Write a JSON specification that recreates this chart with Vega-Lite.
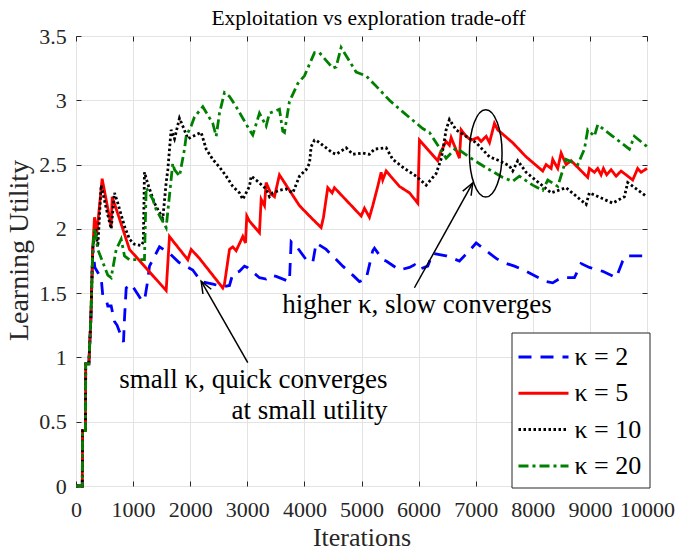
{
"$schema": "https://vega.github.io/schema/vega-lite/v6.json",
"width": 571, "height": 450,
"autosize": {"type": "none"},
"padding": {"left": 76, "top": 36, "right": 33, "bottom": 65},
"background": "white",
"title": {"text": "Exploitation vs exploration trade-off", "font": "Liberation Serif", "fontSize": 21.5, "fontWeight": "normal", "color": "black", "offset": -4, "anchor": "middle", "dx": 7},
"config": {
  "view": {"stroke": "#262626", "strokeWidth": 1},
  "axis": {"labelFont": "Liberation Serif", "titleFont": "Liberation Serif", "labelColor": "#262626", "titleColor": "#262626", "titleFontWeight": "normal", "tickColor": "#262626", "domain": false, "gridColor": "#e3e3e3", "gridOpacity": 1, "gridWidth": 1}
},
"datasets": {
  "series": [
    {"k":"κ = 2","x":0,"y":0},{"k":"κ = 2","x":110,"y":0},{"k":"κ = 2","x":115,"y":0.43},{"k":"κ = 2","x":165,"y":0.43},{"k":"κ = 2","x":170,"y":0.95},{"k":"κ = 2","x":225,"y":0.95},{"k":"κ = 2","x":260,"y":1.3},{"k":"κ = 2","x":294,"y":1.85},
    {"k":"κ = 2","x":330,"y":1.70},{"k":"κ = 2","x":382,"y":1.66},{"k":"κ = 2","x":441,"y":1.62},{"k":"κ = 2","x":469,"y":1.48},{"k":"κ = 2","x":529,"y":1.45},{"k":"κ = 2","x":557,"y":1.40},{"k":"κ = 2","x":616,"y":1.40},{"k":"κ = 2","x":674,"y":1.28},{"k":"κ = 2","x":720,"y":1.25},{"k":"κ = 2","x":762,"y":1.20},{"k":"κ = 2","x":832,"y":1.12},{"k":"κ = 2","x":849,"y":1.30},{"k":"κ = 2","x":879,"y":1.54},{"k":"κ = 2","x":937,"y":1.56},{"k":"κ = 2","x":967,"y":1.57},{"k":"κ = 2","x":1142,"y":1.45},{"k":"κ = 2","x":1199,"y":1.44},{"k":"κ = 2","x":1257,"y":1.60},{"k":"κ = 2","x":1287,"y":1.71},{"k":"κ = 2","x":1462,"y":1.86},{"k":"κ = 2","x":1637,"y":1.81},{"k":"κ = 2","x":1800,"y":1.74},{"k":"κ = 2","x":2045,"y":1.68},{"k":"κ = 2","x":2192,"y":1.59},{"k":"κ = 2","x":2400,"y":1.57},{"k":"κ = 2","x":2571,"y":1.55},{"k":"κ = 2","x":2688,"y":1.56},{"k":"κ = 2","x":2746,"y":1.65},{"k":"κ = 2","x":2863,"y":1.67},{"k":"κ = 2","x":2950,"y":1.71},{"k":"κ = 2","x":3000,"y":1.70},{"k":"κ = 2","x":3213,"y":1.62},{"k":"κ = 2","x":3330,"y":1.61},{"k":"κ = 2","x":3418,"y":1.64},{"k":"κ = 2","x":3505,"y":1.63},{"k":"κ = 2","x":3738,"y":1.59},{"k":"κ = 2","x":3768,"y":1.90},{"k":"κ = 2","x":3884,"y":1.85},{"k":"κ = 2","x":4031,"y":1.76},{"k":"κ = 2","x":4147,"y":1.74},{"k":"κ = 2","x":4206,"y":1.89},{"k":"κ = 2","x":4381,"y":1.84},{"k":"κ = 2","x":4672,"y":1.71},{"k":"κ = 2","x":4847,"y":1.64},{"k":"κ = 2","x":4964,"y":1.59},{"k":"κ = 2","x":5081,"y":1.61},{"k":"κ = 2","x":5197,"y":1.83},{"k":"κ = 2","x":5227,"y":1.85},{"k":"κ = 2","x":5372,"y":1.76},{"k":"κ = 2","x":5432,"y":1.75},{"k":"κ = 2","x":5665,"y":1.68},{"k":"κ = 2","x":5840,"y":1.70},{"k":"κ = 2","x":5928,"y":1.72},{"k":"κ = 2","x":5985,"y":1.68},{"k":"κ = 2","x":6160,"y":1.71},{"k":"κ = 2","x":6248,"y":1.81},{"k":"κ = 2","x":6482,"y":1.79},{"k":"κ = 2","x":6715,"y":1.75},{"k":"κ = 2","x":6890,"y":1.83},{"k":"κ = 2","x":7008,"y":1.89},{"k":"κ = 2","x":7124,"y":1.85},{"k":"κ = 2","x":7358,"y":1.77},{"k":"κ = 2","x":7474,"y":1.74},{"k":"κ = 2","x":7679,"y":1.71},{"k":"κ = 2","x":7883,"y":1.67},{"k":"κ = 2","x":8233,"y":1.59},{"k":"κ = 2","x":8349,"y":1.58},{"k":"κ = 2","x":8496,"y":1.62},{"k":"κ = 2","x":8729,"y":1.62},{"k":"κ = 2","x":8846,"y":1.73},{"k":"κ = 2","x":8991,"y":1.70},{"k":"κ = 2","x":9225,"y":1.67},{"k":"κ = 2","x":9459,"y":1.62},{"k":"κ = 2","x":9575,"y":1.75},{"k":"κ = 2","x":9634,"y":1.79},{"k":"κ = 2","x":9779,"y":1.79},{"k":"κ = 2","x":10000,"y":1.79},

    {"k":"κ = 5","x":0,"y":0},{"k":"κ = 5","x":110,"y":0},{"k":"κ = 5","x":115,"y":0.43},{"k":"κ = 5","x":165,"y":0.43},{"k":"κ = 5","x":170,"y":0.95},{"k":"κ = 5","x":225,"y":0.95},{"k":"κ = 5","x":260,"y":1.3},{"k":"κ = 5","x":294,"y":1.85},
    {"k":"κ = 5","x":324,"y":2.09},{"k":"κ = 5","x":365,"y":1.97},{"k":"κ = 5","x":458,"y":2.39},{"k":"κ = 5","x":616,"y":2.02},{"k":"κ = 5","x":634,"y":2.25},{"k":"κ = 5","x":937,"y":1.84},{"k":"κ = 5","x":1579,"y":1.52},{"k":"κ = 5","x":1637,"y":1.94},{"k":"κ = 5","x":1958,"y":1.76},{"k":"κ = 5","x":2017,"y":1.84},{"k":"κ = 5","x":2163,"y":1.77},{"k":"κ = 5","x":2571,"y":1.54},{"k":"κ = 5","x":2600,"y":1.57},{"k":"κ = 5","x":2688,"y":1.84},{"k":"κ = 5","x":2746,"y":1.86},{"k":"κ = 5","x":2805,"y":1.83},{"k":"κ = 5","x":2921,"y":1.94},{"k":"κ = 5","x":2968,"y":1.89},{"k":"κ = 5","x":2991,"y":2.10},{"k":"κ = 5","x":3038,"y":2.06},{"k":"κ = 5","x":3213,"y":1.97},{"k":"κ = 5","x":3243,"y":2.23},{"k":"κ = 5","x":3301,"y":2.18},{"k":"κ = 5","x":3330,"y":2.36},{"k":"κ = 5","x":3418,"y":2.27},{"k":"κ = 5","x":3476,"y":2.25},{"k":"κ = 5","x":3563,"y":2.42},{"k":"κ = 5","x":3621,"y":2.38},{"k":"κ = 5","x":3914,"y":2.18},{"k":"κ = 5","x":4089,"y":2.10},{"k":"κ = 5","x":4293,"y":2.01},{"k":"κ = 5","x":4334,"y":2.09},{"k":"κ = 5","x":4409,"y":2.32},{"k":"κ = 5","x":4486,"y":2.28},{"k":"κ = 5","x":4526,"y":2.32},{"k":"κ = 5","x":4994,"y":2.10},{"k":"κ = 5","x":5052,"y":2.16},{"k":"κ = 5","x":5139,"y":2.09},{"k":"κ = 5","x":5197,"y":2.18},{"k":"κ = 5","x":5285,"y":2.33},{"k":"κ = 5","x":5344,"y":2.44},{"k":"κ = 5","x":5372,"y":2.38},{"k":"κ = 5","x":5432,"y":2.45},{"k":"κ = 5","x":5665,"y":2.33},{"k":"κ = 5","x":5840,"y":2.28},{"k":"κ = 5","x":5985,"y":2.20},{"k":"κ = 5","x":6015,"y":2.69},{"k":"κ = 5","x":6335,"y":2.53},{"k":"κ = 5","x":6378,"y":2.59},{"k":"κ = 5","x":6482,"y":2.68},{"k":"κ = 5","x":6540,"y":2.65},{"k":"κ = 5","x":6570,"y":2.71},{"k":"κ = 5","x":6715,"y":2.55},{"k":"κ = 5","x":6745,"y":2.77},{"k":"κ = 5","x":6832,"y":2.72},{"k":"κ = 5","x":6920,"y":2.69},{"k":"κ = 5","x":7036,"y":2.71},{"k":"κ = 5","x":7095,"y":2.68},{"k":"κ = 5","x":7183,"y":2.72},{"k":"κ = 5","x":7241,"y":2.67},{"k":"κ = 5","x":7328,"y":2.82},{"k":"κ = 5","x":7386,"y":2.77},{"k":"κ = 5","x":7648,"y":2.67},{"k":"κ = 5","x":7883,"y":2.56},{"k":"κ = 5","x":8174,"y":2.45},{"k":"κ = 5","x":8233,"y":2.50},{"k":"κ = 5","x":8321,"y":2.47},{"k":"κ = 5","x":8349,"y":2.54},{"k":"κ = 5","x":8437,"y":2.47},{"k":"κ = 5","x":8496,"y":2.59},{"k":"κ = 5","x":8583,"y":2.50},{"k":"κ = 5","x":8671,"y":2.53},{"k":"κ = 5","x":8962,"y":2.40},{"k":"κ = 5","x":8991,"y":2.47},{"k":"κ = 5","x":9079,"y":2.44},{"k":"κ = 5","x":9137,"y":2.47},{"k":"κ = 5","x":9196,"y":2.42},{"k":"κ = 5","x":9237,"y":2.47},{"k":"κ = 5","x":9294,"y":2.42},{"k":"κ = 5","x":9371,"y":2.46},{"k":"κ = 5","x":9459,"y":2.41},{"k":"κ = 5","x":9546,"y":2.45},{"k":"κ = 5","x":9750,"y":2.38},{"k":"κ = 5","x":9837,"y":2.47},{"k":"κ = 5","x":9896,"y":2.44},{"k":"κ = 5","x":10000,"y":2.47},

    {"k":"κ = 10","x":0,"y":0},{"k":"κ = 10","x":110,"y":0},{"k":"κ = 10","x":115,"y":0.43},{"k":"κ = 10","x":165,"y":0.43},{"k":"κ = 10","x":170,"y":0.95},{"k":"κ = 10","x":225,"y":0.95},{"k":"κ = 10","x":260,"y":1.3},{"k":"κ = 10","x":294,"y":1.85},
    {"k":"κ = 10","x":340,"y":2.0},{"k":"κ = 10","x":382,"y":1.86},{"k":"κ = 10","x":441,"y":2.34},{"k":"κ = 10","x":529,"y":2.16},{"k":"κ = 10","x":616,"y":2.00},{"k":"κ = 10","x":674,"y":2.28},{"k":"κ = 10","x":732,"y":2.20},{"k":"κ = 10","x":849,"y":2.02},{"k":"κ = 10","x":937,"y":1.92},{"k":"κ = 10","x":1024,"y":1.88},{"k":"κ = 10","x":1142,"y":1.87},{"k":"κ = 10","x":1180,"y":1.90},{"k":"κ = 10","x":1199,"y":2.44},{"k":"κ = 10","x":1257,"y":2.35},{"k":"κ = 10","x":1374,"y":2.20},{"k":"κ = 10","x":1520,"y":2.08},{"k":"κ = 10","x":1579,"y":2.36},{"k":"κ = 10","x":1608,"y":2.46},{"k":"κ = 10","x":1666,"y":2.77},{"k":"κ = 10","x":1725,"y":2.70},{"k":"κ = 10","x":1812,"y":2.86},{"k":"κ = 10","x":1870,"y":2.80},{"k":"κ = 10","x":1960,"y":2.70},{"k":"κ = 10","x":2045,"y":2.72},{"k":"κ = 10","x":2192,"y":2.75},{"k":"κ = 10","x":2280,"y":2.62},{"k":"κ = 10","x":2396,"y":2.54},{"k":"κ = 10","x":2513,"y":2.48},{"k":"κ = 10","x":2630,"y":2.41},{"k":"κ = 10","x":2746,"y":2.33},{"k":"κ = 10","x":2863,"y":2.28},{"k":"κ = 10","x":2921,"y":2.23},{"k":"κ = 10","x":3038,"y":2.33},{"k":"κ = 10","x":3068,"y":2.41},{"k":"κ = 10","x":3155,"y":2.38},{"k":"κ = 10","x":3330,"y":2.31},{"k":"κ = 10","x":3388,"y":2.25},{"k":"κ = 10","x":3446,"y":2.28},{"k":"κ = 10","x":3563,"y":2.30},{"k":"κ = 10","x":3680,"y":2.31},{"k":"κ = 10","x":3797,"y":2.28},{"k":"κ = 10","x":3914,"y":2.41},{"k":"κ = 10","x":4031,"y":2.46},{"k":"κ = 10","x":4089,"y":2.51},{"k":"κ = 10","x":4118,"y":2.64},{"k":"κ = 10","x":4177,"y":2.69},{"k":"κ = 10","x":4206,"y":2.69},{"k":"κ = 10","x":4381,"y":2.63},{"k":"κ = 10","x":4497,"y":2.59},{"k":"κ = 10","x":4556,"y":2.58},{"k":"κ = 10","x":4731,"y":2.63},{"k":"κ = 10","x":4847,"y":2.58},{"k":"κ = 10","x":5022,"y":2.59},{"k":"κ = 10","x":5139,"y":2.58},{"k":"κ = 10","x":5227,"y":2.62},{"k":"κ = 10","x":5432,"y":2.63},{"k":"κ = 10","x":5548,"y":2.54},{"k":"κ = 10","x":5752,"y":2.47},{"k":"κ = 10","x":5957,"y":2.41},{"k":"κ = 10","x":6132,"y":2.34},{"k":"κ = 10","x":6307,"y":2.43},{"k":"κ = 10","x":6400,"y":2.55},{"k":"κ = 10","x":6482,"y":2.77},{"k":"κ = 10","x":6540,"y":2.85},{"k":"κ = 10","x":6657,"y":2.77},{"k":"κ = 10","x":6832,"y":2.72},{"k":"κ = 10","x":7008,"y":2.67},{"k":"κ = 10","x":7241,"y":2.56},{"k":"κ = 10","x":7416,"y":2.53},{"k":"κ = 10","x":7590,"y":2.49},{"k":"κ = 10","x":7648,"y":2.45},{"k":"κ = 10","x":7736,"y":2.53},{"k":"κ = 10","x":7883,"y":2.44},{"k":"κ = 10","x":8321,"y":2.28},{"k":"κ = 10","x":8583,"y":2.32},{"k":"κ = 10","x":8934,"y":2.19},{"k":"κ = 10","x":8991,"y":2.28},{"k":"κ = 10","x":9400,"y":2.20},{"k":"κ = 10","x":9604,"y":2.25},{"k":"κ = 10","x":9662,"y":2.36},{"k":"κ = 10","x":10000,"y":2.25},

    {"k":"κ = 20","x":0,"y":0},{"k":"κ = 20","x":110,"y":0},{"k":"κ = 20","x":115,"y":0.43},{"k":"κ = 20","x":165,"y":0.43},{"k":"κ = 20","x":170,"y":0.95},{"k":"κ = 20","x":225,"y":0.95},{"k":"κ = 20","x":260,"y":1.3},{"k":"κ = 20","x":294,"y":1.85},
    {"k":"κ = 20","x":324,"y":2.01},{"k":"κ = 20","x":382,"y":1.84},{"k":"κ = 20","x":557,"y":1.64},{"k":"κ = 20","x":616,"y":1.62},{"k":"κ = 20","x":704,"y":1.84},{"k":"κ = 20","x":791,"y":1.92},{"k":"κ = 20","x":849,"y":1.79},{"k":"κ = 20","x":937,"y":1.76},{"k":"κ = 20","x":1199,"y":1.76},{"k":"κ = 20","x":1229,"y":2.32},{"k":"κ = 20","x":1345,"y":2.23},{"k":"κ = 20","x":1404,"y":2.15},{"k":"κ = 20","x":1579,"y":2.01},{"k":"κ = 20","x":1695,"y":2.51},{"k":"κ = 20","x":1725,"y":2.46},{"k":"κ = 20","x":1812,"y":2.41},{"k":"κ = 20","x":1900,"y":2.62},{"k":"κ = 20","x":1929,"y":2.72},{"k":"κ = 20","x":2017,"y":2.80},{"k":"κ = 20","x":2075,"y":2.87},{"k":"κ = 20","x":2221,"y":2.95},{"k":"κ = 20","x":2396,"y":2.82},{"k":"κ = 20","x":2455,"y":2.72},{"k":"κ = 20","x":2513,"y":2.90},{"k":"κ = 20","x":2600,"y":3.06},{"k":"κ = 20","x":2688,"y":3.03},{"k":"κ = 20","x":2805,"y":2.95},{"k":"κ = 20","x":3038,"y":2.77},{"k":"κ = 20","x":3096,"y":2.73},{"k":"κ = 20","x":3213,"y":2.90},{"k":"κ = 20","x":3330,"y":2.80},{"k":"κ = 20","x":3388,"y":2.90},{"k":"κ = 20","x":3563,"y":2.93},{"k":"κ = 20","x":3621,"y":2.76},{"k":"κ = 20","x":3651,"y":2.75},{"k":"κ = 20","x":3738,"y":2.99},{"k":"κ = 20","x":3884,"y":3.13},{"k":"κ = 20","x":4001,"y":3.19},{"k":"κ = 20","x":4147,"y":3.34},{"k":"κ = 20","x":4177,"y":3.37},{"k":"κ = 20","x":4264,"y":3.37},{"k":"κ = 20","x":4497,"y":3.25},{"k":"κ = 20","x":4556,"y":3.26},{"k":"κ = 20","x":4643,"y":3.41},{"k":"κ = 20","x":4672,"y":3.39},{"k":"κ = 20","x":4906,"y":3.22},{"k":"κ = 20","x":5081,"y":3.19},{"k":"κ = 20","x":5256,"y":3.11},{"k":"κ = 20","x":5489,"y":3.00},{"k":"κ = 20","x":5723,"y":2.91},{"k":"κ = 20","x":6072,"y":2.78},{"k":"κ = 20","x":6190,"y":2.75},{"k":"κ = 20","x":6482,"y":2.55},{"k":"κ = 20","x":6657,"y":2.63},{"k":"κ = 20","x":6949,"y":2.54},{"k":"κ = 20","x":7241,"y":2.46},{"k":"κ = 20","x":7474,"y":2.40},{"k":"κ = 20","x":7648,"y":2.37},{"k":"κ = 20","x":7765,"y":2.41},{"k":"κ = 20","x":7999,"y":2.34},{"k":"κ = 20","x":8174,"y":2.30},{"k":"κ = 20","x":8262,"y":2.38},{"k":"κ = 20","x":8437,"y":2.33},{"k":"κ = 20","x":8583,"y":2.54},{"k":"κ = 20","x":8787,"y":2.50},{"k":"κ = 20","x":8904,"y":2.62},{"k":"κ = 20","x":8962,"y":2.77},{"k":"κ = 20","x":9079,"y":2.72},{"k":"κ = 20","x":9137,"y":2.81},{"k":"κ = 20","x":9400,"y":2.72},{"k":"κ = 20","x":9692,"y":2.62},{"k":"κ = 20","x":9779,"y":2.72},{"k":"κ = 20","x":10000,"y":2.64}
  ]
},
"resolve": {"axis": {"x": "independent", "y": "independent"}},
"layer": [
  {
    "data": {"name": "series"},
    "mark": {"type": "line", "strokeWidth": 2.8, "strokeJoin": "miter"},
    "encoding": {
      "x": {"field": "x", "type": "quantitative", "scale": {"domain": [0, 10000], "nice": false},
            "axis": {"orient": "bottom", "values": [0,1000,2000,3000,4000,5000,6000,7000,8000,9000,10000], "format": "d", "grid": true, "tickSize": -5, "labelPadding": 18.5, "labelFontSize": 22, "title": "Iterations", "titleFontSize": 26, "titleBaseline": "alphabetic", "titleY": 59, "labelFlush": false}},
      "y": {"field": "y", "type": "quantitative", "scale": {"domain": [0, 3.5], "nice": false},
            "axis": {"orient": "left", "values": [0,0.5,1,1.5,2,2.5,3,3.5], "format": "~g", "grid": true, "tickSize": -5, "labelPadding": 14.8, "labelFontSize": 22, "title": "Learning Utility", "titleFontSize": 28, "titleBaseline": "middle", "titleX": -57, "titleY": 214, "labelFlush": false}},
      "color": {"field": "k", "type": "nominal", "scale": {"domain": ["κ = 2","κ = 5","κ = 10","κ = 20"], "range": ["#0000ff","#ff0000","#000000","#008000"]},
                "legend": {"orient": "none", "legendX": 435.5, "legendY": 296.5, "title": null, "symbolType": "M-1.667,0H1.667", "symbolSize": 900, "symbolStrokeWidth": 3, "labelFont": "Liberation Serif", "labelFontSize": 26, "labelColor": "black", "strokeColor": "#262626", "fillColor": "white", "padding": 8, "rowPadding": 6.3, "symbolOffset": 7.5, "labelOffset": 14.5}},
      "strokeDash": {"field": "k", "type": "nominal", "scale": {"domain": ["κ = 2","κ = 5","κ = 10","κ = 20"], "range": [[13,9],[1,0],[2.5,2.5],[10,4,3,4]]}, "legend": null}
    }
  },
  {
    "data": {"values": [{"x": 7176, "y": 2.587}]},
    "mark": {"type": "point", "shape": "M0,-1 A0.373,1 0 1,1 0,1 A0.373,1 0 1,1 0,-1 Z", "size": 7639, "filled": false, "stroke": "black", "strokeWidth": 1.5, "opacity": 1},
    "encoding": {
      "x": {"field": "x", "type": "quantitative", "axis": {"orient": "top", "labels": false, "grid": false, "tickSize": -5, "title": null, "values": [0,1000,2000,3000,4000,5000,6000,7000,8000,9000,10000]}},
      "y": {"field": "y", "type": "quantitative", "axis": {"orient": "right", "labels": false, "grid": false, "tickSize": -5, "title": null, "values": [0,0.5,1,1.5,2,2.5,3,3.5]}}
    }
  },
  {
    "data": {"values": [{"x": 3008, "y": 0.959, "x2": 2192, "y2": 1.593}, {"x": 5927, "y": 1.542, "x2": 6948, "y2": 2.357}]},
    "mark": {"type": "rule", "color": "black", "strokeWidth": 1.5},
    "encoding": {
      "x": {"field": "x", "type": "quantitative", "axis": null},
      "y": {"field": "y", "type": "quantitative", "axis": null},
      "x2": {"field": "x2"},
      "y2": {"field": "y2"}
    }
  },
  {
    "data": {"values": [{"x": 2192, "y": 1.593}]},
    "mark": {"type": "point", "shape": "M-0.4,1 L0,0 L0.4,1", "size": 576, "filled": false, "stroke": "black", "strokeWidth": 1.5, "angle": 330.3, "opacity": 1},
    "encoding": {
      "x": {"field": "x", "type": "quantitative", "axis": null},
      "y": {"field": "y", "type": "quantitative", "axis": null}
    }
  },
  {
    "data": {"values": [{"x": 6948, "y": 2.357}]},
    "mark": {"type": "point", "shape": "M-0.4,1 L0,0 L0.4,1", "size": 576, "filled": false, "stroke": "black", "strokeWidth": 1.5, "angle": 29, "opacity": 1},
    "encoding": {
      "x": {"field": "x", "type": "quantitative", "axis": null},
      "y": {"field": "y", "type": "quantitative", "axis": null}
    }
  },
  {
    "data": {"values": [{"x": 5454, "y": 0.765, "t": "small κ, quick converges"}, {"x": 5454, "y": 0.518, "t": "at small utility"}]},
    "mark": {"type": "text", "align": "right", "baseline": "alphabetic", "font": "Liberation Serif", "fontSize": 27, "color": "black"},
    "encoding": {
      "x": {"field": "x", "type": "quantitative", "axis": null},
      "y": {"field": "y", "type": "quantitative", "axis": null},
      "text": {"field": "t"}
    }
  },
  {
    "data": {"values": [{"x": 5971, "y": 1.347, "t": "higher κ, slow converges"}]},
    "mark": {"type": "text", "align": "center", "baseline": "alphabetic", "font": "Liberation Serif", "fontSize": 27, "color": "black"},
    "encoding": {
      "x": {"field": "x", "type": "quantitative", "axis": null},
      "y": {"field": "y", "type": "quantitative", "axis": null},
      "text": {"field": "t"}
    }
  }
]
}
